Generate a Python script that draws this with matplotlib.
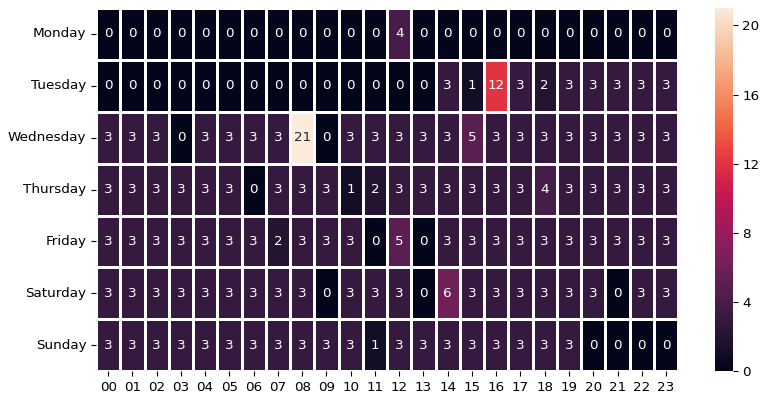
import matplotlib
matplotlib.use("Agg")
import matplotlib.pyplot as plt
import seaborn as sns
import numpy as np
import pandas as pd

days = ["Monday", "Tuesday", "Wednesday", "Thursday", "Friday", "Saturday", "Sunday"]
hours = [f"{h:02d}" for h in range(24)]

monday    = [0,0,0,0,0,0,0,0,0,0,0,0,4,0,0,0,0,0,0,0,0,0,0,0]
tuesday   = [0,0,0,0,0,0,0,0,0,0,0,0,0,0,3,1,12,3,2,3,3,3,3,3]
wednesday = [3,3,3,0,3,3,3,3,21,0,3,3,3,3,3,5,3,3,3,3,3,3,3,3]
thursday  = [3,3,3,3,3,3,0,3,3,3,1,2,3,3,3,3,3,3,4,3,3,3,3,3]
friday    = [3,3,3,3,3,3,3,2,3,3,3,0,5,0,3,3,3,3,3,3,3,3,3,3]
saturday  = [3,3,3,3,3,3,3,3,3,0,3,3,3,0,6,3,3,3,3,3,3,0,3,3]
sunday    = [3,3,3,3,3,3,3,3,3,3,3,1,3,3,3,3,3,3,3,3,0,0,0,0]

df = pd.DataFrame([monday, tuesday, wednesday, thursday, friday, saturday, sunday],
                  index=days, columns=hours)

plt.rcParams['font.size'] = 9.7
fig = plt.figure(figsize=(7.68, 4.03), dpi=100)
ax = fig.add_axes([0.125, 0.079, 0.758, 0.901])
cax = fig.add_axes([0.931, 0.079, 0.023, 0.901])
sns.heatmap(df, ax=ax, cbar_ax=cax, annot=True, fmt="d", linewidths=0.8,
            linecolor="white", cmap="rocket", vmin=0, vmax=21,
            annot_kws={"fontsize": 9.7})
cax.set_yticks([0, 4, 8, 12, 16, 20])
ax.set_yticklabels(days, rotation=0)
ax.set_xticklabels(hours, rotation=0)
fig.savefig("out.png", dpi=100)
